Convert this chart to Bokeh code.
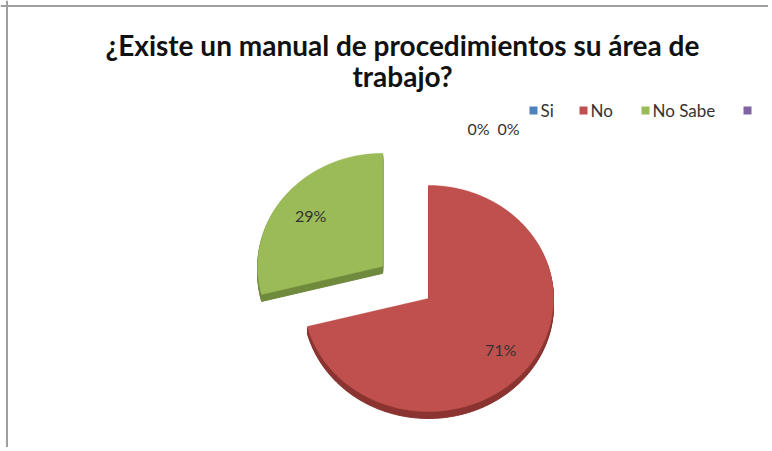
import numpy as np
from bokeh.plotting import figure
from bokeh.models import Range1d, Span
from bokeh.core.properties import value
from bokeh.embed import file_html
from bokeh.resources import INLINE

# ---- data ----
title_lines = ["¿Existe un manual de procedimientos su área de", "trabajo?"]
categories = ["Si", "No", "No Sabe", ""]
values = [0, 71, 29, 0]
colors = ["#4F81BD", "#C0504D", "#9BBB59", "#8064A2"]
side_colors = ["#3A6296", "#8A3331", "#6F8A3C", "#5E4A7A"]

# ---- layout ----
W, H = 768, 447
X0, Y0 = 0, 0
p = figure(width=W, height=H, x_range=Range1d(X0, X0 + W), y_range=Range1d(Y0 + H, Y0),
           output_backend="svg", toolbar_location=None, min_border=0)
p.axis.visible = False
p.grid.visible = False
p.outline_line_color = None
p.background_fill_color = "white"
p.border_fill_color = "white"

# partial frame (top and left) like the reference crop
p.add_layout(Span(location=5.5, dimension="width", line_color="#A0A0A0", line_width=2))
p.add_layout(Span(location=6.5, dimension="height", line_color="#A0A0A0", line_width=2))

cx, cy = 428, 298
rx, ry = 125, 113
depth = 7
explode = [0, 0, 58, 0]

vals = np.array(values, dtype=float)
fr = vals / vals.sum()
ends = np.cumsum(fr) * 2 * np.pi
starts = ends - fr * 2 * np.pi

top_xs, top_ys, top_c = [], [], []
side_xs, side_ys, side_c = [], [], []
lab_x, lab_y, lab_t = [], [], []
zero_x = [478, 508]
zi = 0
for i, v in enumerate(values):
    pct = f"{round(fr[i] * 100):d}%"
    if v == 0:
        lab_x.append(zero_x[zi]); lab_y.append(128); lab_t.append(pct)
        zi += 1
        continue
    mid = (starts[i] + ends[i]) / 2
    ox = explode[i] * np.sin(mid)
    oy = -explode[i] * np.cos(mid) * ry / rx
    t = np.linspace(starts[i], ends[i], 200)
    xs = np.concatenate([[cx + ox], cx + ox + rx * np.sin(t)])
    ys = np.concatenate([[cy + oy], cy + oy - ry * np.cos(t)])
    for d in range(1, depth + 1):
        side_xs.append(list(xs)); side_ys.append(list(ys + d)); side_c.append(side_colors[i])
    top_xs.append(list(xs)); top_ys.append(list(ys)); top_c.append(colors[i])
    lab_x.append(cx + ox + 0.73 * rx * np.sin(mid))
    lab_y.append(cy + oy - 0.73 * ry * np.cos(mid))
    lab_t.append(pct)

p.patches(side_xs, side_ys, fill_color=side_c, line_color=side_c, line_width=1)
p.patches(top_xs, top_ys, fill_color=top_c, line_color=top_c, line_width=0.5)

p.text(x=lab_x, y=lab_y, text=lab_t, text_font=value("Lato"), text_font_size="16px",
       text_color="#333333", text_align="center", text_baseline="middle")

# title
p.text(x=[402, 402], y=[44, 75], text=title_lines, text_font=value("Lato"),
       text_font_size="28px", text_font_style="bold", text_color="#111111",
       text_align="center", text_baseline="middle")

# legend
leg_x = [533, 583, 645, 747]
p.scatter(x=leg_x, y=[110] * 4, marker="square", size=8, fill_color=colors, line_color=None)
p.text(x=[x + 7 for x in leg_x], y=[110] * 4, text=categories, text_font=value("Lato"),
       text_font_size="17px", text_color="#333333", text_align="left", text_baseline="middle")

open("out.html", "w").write(file_html(p, INLINE))
